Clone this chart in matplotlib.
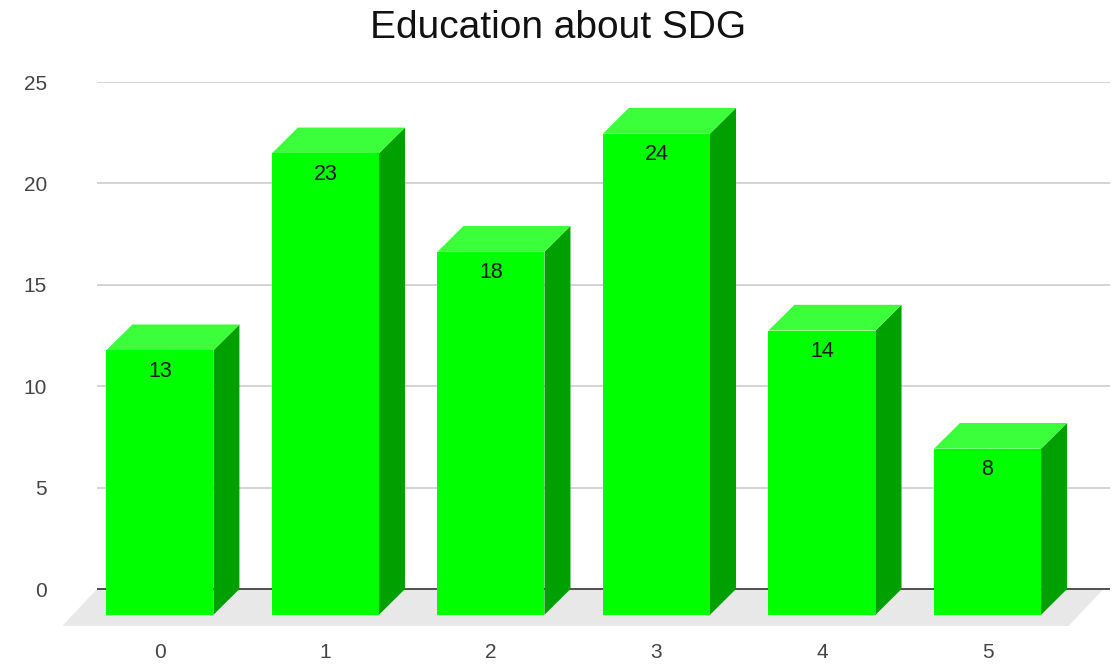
import matplotlib.pyplot as plt
from matplotlib.patches import Polygon

plt.rcParams['font.family'] = ['Liberation Sans', 'DejaVu Sans']

categories = ["0", "1", "2", "3", "4", "5"]
values = [13, 23, 18, 24, 14, 8]
y_ticks = [0, 5, 10, 15, 20, 25]

front_color = "#00ff00"
top_color = "#3cff3c"
side_color = "#00a000"

fig = plt.figure(figsize=(11.16, 6.70), dpi=100)
W, H = 1116, 670
# axes in pixels: x 97..1110, y 82 (25) .. 629.6 (-2)
ax = fig.add_axes([97 / W, (H - 629.6) / H, (1110 - 97) / W, (629.6 - 82) / H])

xmin, xmax = -0.38, 5.74
ax.set_xlim(xmin, xmax)
ax.set_ylim(-2, 25)

w = 0.647       # width of the front face
dx = 0.157      # depth offset, x
dy = 1.27       # depth offset, y


def bar_top(v):
    # bars sit a little in front of the grid plane, so their scale is slightly smaller
    return 0.971 * v + 0.42


# floor
fdx, fdy = 0.21, 1.82
floor = Polygon([(xmin, 0), (xmax - 0.04, 0), (xmax - 0.04 - fdx, -fdy), (xmin - fdx, -fdy)],
                closed=True, facecolor="#e8e8e8", edgecolor="none", zorder=0, clip_on=False)
ax.add_patch(floor)

# gridlines
for t in y_ticks[1:]:
    ax.axhline(t, color="#cccccc", lw=1.2, zorder=0.5)
ax.axhline(0, color="#333333", lw=1.2, zorder=1)

for i, v in enumerate(values):
    l, r = i - w / 2, i + w / 2
    h = bar_top(v)
    front = Polygon([(l, -dy), (r, -dy), (r, h - dy), (l, h - dy)],
                    facecolor=front_color, edgecolor="none", zorder=3)
    top = Polygon([(l, h - dy), (l + dx, h), (r + dx, h), (r, h - dy)],
                  facecolor=top_color, edgecolor="none", zorder=3)
    side = Polygon([(r, -dy), (r + dx, 0), (r + dx, h), (r, h - dy)],
                   facecolor=side_color, edgecolor="none", zorder=3)
    for p in (side, top, front):
        ax.add_patch(p)
    ax.annotate(str(v), (i, h - dy), xytext=(0, -15), textcoords="offset points",
                ha="center", va="center", fontsize=15.5, color="#1a1a1a", zorder=4)

ax.set_xticks(range(len(categories)))
ax.set_xticklabels(categories)
ax.set_yticks(y_ticks)
ax.tick_params(axis="x", length=0, pad=10, labelsize=15, labelcolor="#444444")
ax.tick_params(axis="y", length=0, pad=36, labelsize=15, labelcolor="#444444")
for s in ax.spines.values():
    s.set_visible(False)

fig.text(0.5, 1 - 28 / H, "Education about SDG", ha="center", va="center",
         fontsize=28, color="#111111")

plt.savefig("out.png", dpi=100)
plt.close()
